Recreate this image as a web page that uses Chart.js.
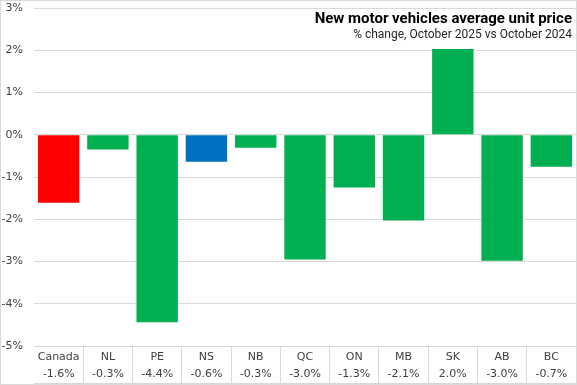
<!DOCTYPE html>
<html>
<head>
	<title>New motor vehicles</title>
	<script src="https://cdn.jsdelivr.net/npm/chart.js@4"></script>
	<style>
		body { margin: 0; background: #fff; }
		#wrap { width: 577px; height: 385px; }
	</style>
</head>
<body>
<div id="wrap">
	<canvas id="myChart"></canvas>
</div>
<script type="text/javascript">
	// data
	let provinces = ['Canada', 'NL', 'PE', 'NS', 'NB', 'QC', 'ON', 'MB', 'SK', 'AB', 'BC'];
	let valueLabels = ['-1.6%', '-0.3%', '-4.4%', '-0.6%', '-0.3%', '-3.0%', '-1.3%', '-2.1%', '2.0%', '-3.0%', '-0.7%'];
	let pctChange = [-1.61, -0.35, -4.44, -0.64, -0.31, -2.95, -1.25, -2.03, 2.03, -2.98, -0.76];
	let barColors = ['#FF0000', '#00B050', '#00B050', '#0070C0', '#00B050', '#00B050', '#00B050', '#00B050', '#00B050', '#00B050', '#00B050'];

	let titleText = 'New motor vehicles average unit price';
	let subtitleText = '% change, October 2025 vs October 2024';

	let gridGray = '#d9d9d9';

	let labels = [];
	for (let i = 0; i < provinces.length; i++) {
		labels.push([provinces[i], valueLabels[i]]);
	}

	// outer frame, table bottom line and the title block
	let decoPlugin = {
		id: 'deco',
		beforeDraw(chart) {
			let c = chart.ctx;
			c.save();
			c.fillStyle = '#fff';
			c.fillRect(0, 0, chart.width, chart.height);
			c.restore();
		},
		afterDraw(chart) {
			let c = chart.ctx;
			let xs = chart.scales.x;
			c.save();
			c.strokeStyle = gridGray;
			c.lineWidth = 1;
			c.strokeRect(0.5, 0.5, chart.width - 1, chart.height - 1);
			c.beginPath();
			c.moveTo(xs.left, Math.round(xs.bottom) + 0.5);
			c.lineTo(xs.right, Math.round(xs.bottom) + 0.5);
			c.stroke();

			c.textAlign = 'right';
			c.textBaseline = 'middle';
			c.fillStyle = '#000';
			c.font = 'bold 15px "Liberation Sans Narrow", "Roboto", sans-serif';
			c.fillText(titleText, chart.chartArea.right - 4, 19);
			c.fillStyle = '#262626';
			c.font = '12px "Roboto", "Liberation Sans", sans-serif';
			c.fillText(subtitleText, chart.chartArea.right - 4, 35);
			c.restore();
		}
	};

	let ctx = document.getElementById('myChart');
	let myChart = new Chart(ctx, {
		type: 'bar',
		data: {
			labels: labels,
			datasets: [{
				data: pctChange,
				backgroundColor: barColors,
				borderWidth: 0,
				barPercentage: 0.84,
				categoryPercentage: 1.0
			}]
		},
		options: {
			responsive: true,
			maintainAspectRatio: false,
			animation: false,
			layout: { padding: { top: 0, right: 1, bottom: 2, left: 0 } },
			plugins: {
				legend: { display: false },
				tooltip: { enabled: false }
			},
			scales: {
				x: {
					grid: {
						offset: true,
						drawOnChartArea: false,
						drawTicks: true,
						tickLength: 37,
						color: (c) => c.index === 0 ? 'rgba(0,0,0,0)' : gridGray
					},
					border: { display: true, color: gridGray },
					ticks: {
						padding: -35,
						color: '#404040',
						maxRotation: 0,
						autoSkip: false,
						font: { family: '"DejaVu Sans", sans-serif', size: 11, lineHeight: 1.6 }
					},
					afterFit: (s) => { s.height = 37; s.paddingLeft = 0; s.paddingRight = 0; }
				},
				y: {
					min: -5,
					max: 3,
					grid: { color: gridGray, drawTicks: false },
					border: { display: false },
					ticks: {
						stepSize: 1,
						padding: 11,
						color: '#404040',
						font: { family: '"DejaVu Sans", sans-serif', size: 11 },
						callback: (v) => v + '%'
					},
					afterFit: (s) => { s.width = 34; s.paddingTop = 8; s.paddingBottom = 0; }
				}
			}
		},
		plugins: [decoPlugin]
	});
</script>
</body>
</html>
